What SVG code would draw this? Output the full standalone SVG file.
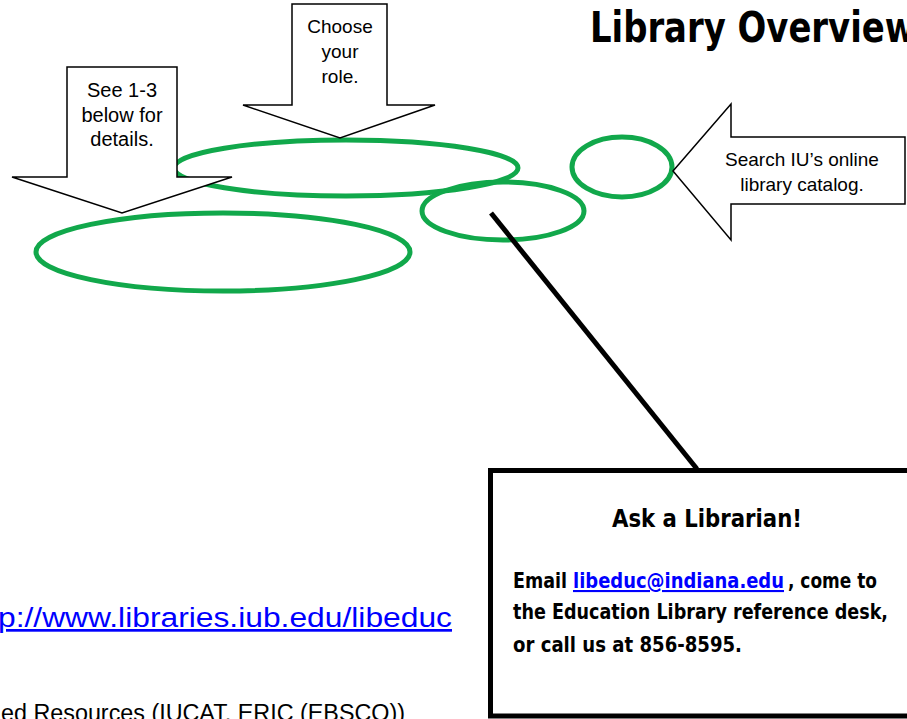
<svg xmlns="http://www.w3.org/2000/svg" width="907" height="719" viewBox="0 0 907 719">
<style>
.arrow{fill:#fff;stroke:#000;stroke-width:1.5;stroke-linejoin:miter}
.ring{fill:none;stroke:#11A84B;stroke-width:5}
.lbl{font-family:"Liberation Sans",Arial,sans-serif;fill:#000;text-anchor:middle}
.cond{font-family:"Liberation Sans Narrow","DejaVu Sans Condensed","Liberation Sans",sans-serif;font-weight:bold;fill:#000}
.link{fill:#0000FF;text-decoration:underline}
</style>
<rect width="907" height="719" fill="#fff"/>
<g id="title">
<text class="cond" x="590" y="42" font-size="42" textLength="326" lengthAdjust="spacingAndGlyphs">Library Overview</text>
</g>
<g id="ellipse-top"><ellipse class="ring" cx="346" cy="168" rx="172" ry="28"/></g>
<g id="ellipse-left"><ellipse class="ring" cx="223" cy="252" rx="187" ry="39"/></g>
<g id="ellipse-mid"><ellipse class="ring" cx="503" cy="211" rx="81" ry="29"/></g>
<g id="ellipse-right"><ellipse class="ring" cx="622" cy="167" rx="50" ry="30"/></g>
<g id="arrow-details">
<polygon class="arrow" points="67,67 177,67 177,177 232,177 122,213 12,177 67,177"/>
<text class="lbl" font-size="20" x="122" y="97">See 1-3</text>
<text class="lbl" font-size="20" x="122" y="122">below for</text>
<text class="lbl" font-size="20" x="122" y="146">details.</text>
</g>
<g id="arrow-role">
<polygon class="arrow" points="292,4 387,4 387,105 435,105 340,138 243,105 292,105"/>
<text class="lbl" font-size="19" x="340" y="33">Choose</text>
<text class="lbl" font-size="19" x="340" y="58">your</text>
<text class="lbl" font-size="19" x="340" y="83">role.</text>
</g>
<g id="arrow-catalog">
<polygon class="arrow" points="673,171 731,104 731,137 905,137 905,204 731,204 731,240"/>
<text class="lbl" font-size="19" x="802" y="166">Search IU’s online</text>
<text class="lbl" font-size="19" x="802" y="191">library catalog.</text>
</g>
<g id="connectors">
<line x1="491" y1="213" x2="697" y2="469" stroke="#000" stroke-width="5"/>
</g>
<g id="ask-librarian">
<rect x="490.5" y="470.5" width="430" height="245.5" fill="#fff" stroke="#000" stroke-width="5"/>
<text class="cond" x="707" y="527" font-size="25" text-anchor="middle" textLength="190" lengthAdjust="spacingAndGlyphs">Ask a Librarian!</text>
<text class="cond" x="513" y="588" font-size="21" textLength="54" lengthAdjust="spacingAndGlyphs">Email</text>
<text class="cond link" x="573" y="588" font-size="21" textLength="211" lengthAdjust="spacingAndGlyphs">libeduc@indiana.edu</text>
<text class="cond" x="788" y="588" font-size="21" textLength="89" lengthAdjust="spacingAndGlyphs">, come to</text>
<text class="cond" x="513" y="619" font-size="21" textLength="375" lengthAdjust="spacingAndGlyphs">the Education Library reference desk,</text>
<text class="cond" x="513" y="652" font-size="21" textLength="229" lengthAdjust="spacingAndGlyphs">or call us at 856-8595.</text>
</g>
<g id="url">
<text x="-2" y="627" font-family="'Liberation Sans',Arial,sans-serif" font-size="27" fill="#0000FF" text-decoration="underline" textLength="454" lengthAdjust="spacingAndGlyphs">p://www.libraries.iub.edu/libeduc</text>
</g>
<g id="resources">
<text x="1" y="721" font-family="'Liberation Sans',Arial,sans-serif" font-size="23" fill="#000" textLength="404" lengthAdjust="spacingAndGlyphs">ed Resources (IUCAT, ERIC (EBSCO))</text>
</g>
</svg>
